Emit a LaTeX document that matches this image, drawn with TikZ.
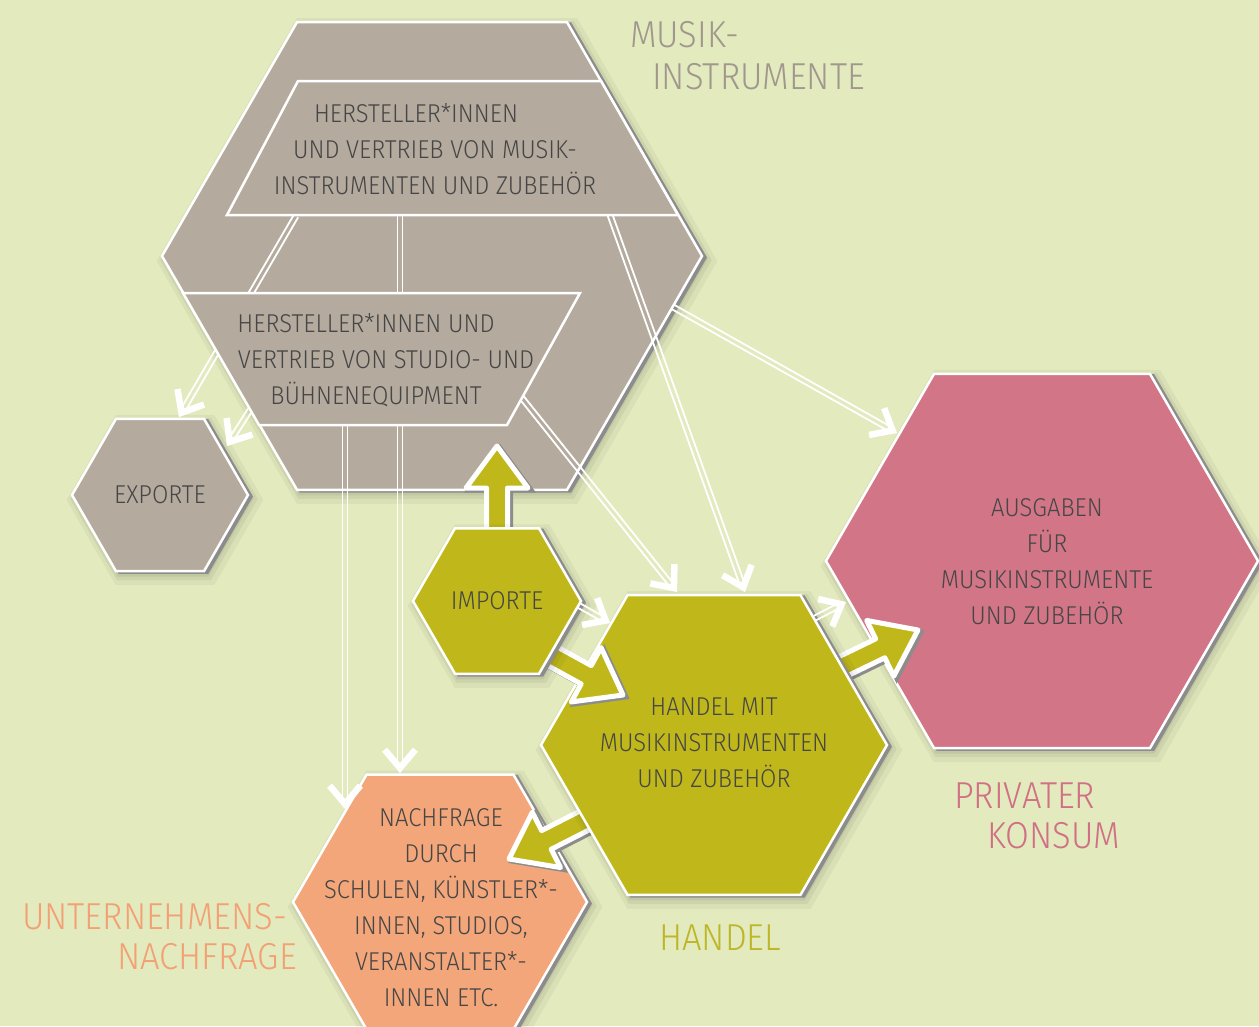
\documentclass[tikz,border=0pt]{standalone}
\usepackage{fontspec}
\setmainfont{Fira Sans Light}[FakeStretch=0.92]
\usetikzlibrary{calc}
\definecolor{bgc}{RGB}{226,234,190}
\definecolor{grayc}{RGB}{180,170,158}
\definecolor{olivec}{RGB}{192,184,26}
\definecolor{pinkc}{RGB}{210,117,135}
\definecolor{salmonc}{RGB}{243,166,122}
\definecolor{textc}{RGB}{70,70,70}
\definecolor{labgray}{RGB}{160,151,141}
\definecolor{laboliv}{RGB}{190,182,40}
\definecolor{labpink}{RGB}{208,112,132}
\definecolor{labsalm}{RGB}{242,160,116}
\definecolor{shadowc}{RGB}{140,140,140}

\tikzset{
  hexst/.style={draw=white, line width=2.5pt, line join=miter,
    preaction={draw=black, draw opacity=0.04, line width=18pt, transform canvas={shift={(5pt,-5pt)}}},
    preaction={draw=black, draw opacity=0.05, line width=10pt, transform canvas={shift={(4pt,-4pt)}}},
    preaction={draw=black, draw opacity=0.06, line width=5pt, transform canvas={shift={(3pt,-3pt)}}},
    preaction={fill=shadowc, draw=shadowc, line width=2.5pt, transform canvas={shift={(3.5pt,-1.5pt)}}}},
  boxst/.style={fill=grayc, draw=white, line width=2.5pt, line join=miter},
  dblline/.style={draw=white, line width=1.8pt},
  chev/.style={draw=white, line width=6.5pt, line join=miter, miter limit=10},
  fatarr/.style={fill=olivec, draw=white, line width=5pt, line join=round,
    preaction={fill=shadowc, draw=shadowc, line width=5pt, transform canvas={shift={(3pt,-2pt)}}}},
  intext/.style={text=textc, font=\fontsize{25.8}{36}\selectfont, align=center, inner sep=0pt},
  labtext/.style={font=\fontsize{37.5}{42}\selectfont, inner sep=0pt, anchor=base west}
}

\newcommand{\drawhex}[3]{\path[#3] ($(#1)+(0:#2)$) -- ($(#1)+(60:#2)$) -- ($(#1)+(120:#2)$) -- ($(#1)+(180:#2)$) -- ($(#1)+(240:#2)$) -- ($(#1)+(300:#2)$) -- cycle;}

\newcommand{\dblarrow}[2]{%
  \path ($(#2)!5pt!(#1)$) coordinate (dbE);
  \draw[dblline] ($(#1)!2.5pt!90:(dbE)$) -- ($(dbE)!2.5pt!-90:(#1)$);
  \draw[dblline] ($(#1)!2.5pt!-90:(dbE)$) -- ($(dbE)!2.5pt!90:(#1)$);
  \draw[chev] ($(dbE)!24pt!40:(#1)$) -- (dbE) -- ($(dbE)!24pt!-40:(#1)$);
}

\newcommand{\fatarrow}[2]{%
  \path ($(#2)!42pt!(#1)$) coordinate (faB);
  \path[fatarr] ($(#1)!10.5pt!90:(#2)$) -- ($(faB)!10.5pt!90:(#2)$) -- ($(faB)!31pt!90:(#2)$) -- (#2) -- ($(faB)!31pt!-90:(#2)$) -- ($(faB)!10.5pt!-90:(#2)$) -- ($(#1)!10.5pt!-90:(#2)$) -- cycle;
}

\begin{document}
\begin{tikzpicture}[x=1pt,y=-1pt]
\useasboundingbox (0,0) rectangle (1259,1026);
\fill[bgc] (0,0) rectangle (1259,1026);

% hexagon centres
\coordinate (cmus) at (432,256);
\coordinate (cexp) at (160,495);
\coordinate (cimp) at (497,601);
\coordinate (chan) at (714,745);
\coordinate (caus) at (1042,561);
\coordinate (cnach) at (440,902);

% arrow end points
\coordinate (a1s) at (296,216);  \coordinate (a1t) at (179,417);
\coordinate (a2s) at (250,410);  \coordinate (a2t) at (227,446);
\coordinate (a3s) at (400,215);  \coordinate (a3t) at (400,773);
\coordinate (a4s) at (345,425);  \coordinate (a4t) at (345,809);
\coordinate (a5s) at (610,215);  \coordinate (a5t) at (745,592);
\coordinate (a6s) at (522,398);  \coordinate (a6t) at (677,592);
\coordinate (a7s) at (673,307);  \coordinate (a7t) at (897,433);
\coordinate (a8s) at (578,605);  \coordinate (a8t) at (610,623);
\coordinate (a9s) at (815,618);  \coordinate (a9t) at (846,602);
\coordinate (fas) at (497,560);  \coordinate (fat) at (497,446);
\coordinate (fbs) at (532,645);  \coordinate (fbt) at (623,695);
\coordinate (fcs) at (819,678);  \coordinate (fct) at (918,630);
\coordinate (fds) at (609,808);  \coordinate (fdt) at (509,859);

% hexagons
\drawhex{caus}{216}{hexst, fill=pinkc}
\drawhex{cnach}{147}{hexst, fill=salmonc}
\drawhex{cexp}{88}{hexst, fill=grayc}
\drawhex{cmus}{270}{hexst, fill=grayc}

% upper box inside the big hexagon
\path[boxst] (298,81) -- (601,81) -- (678,215) -- (227,215) -- cycle;

% connectors passing behind the lower box
\dblarrow{a1s}{a1t}
\dblarrow{a3s}{a3t}

% lower box
\path[boxst] (183,293) -- (580,293) -- (507,425) -- (259,425) -- cycle;

% thick arrows
\fatarrow{fas}{fat}
\fatarrow{fcs}{fct}
\fatarrow{fds}{fdt}
\drawhex{chan}{173}{hexst, fill=olivec}
\fatarrow{fbs}{fbt}
\drawhex{cimp}{84}{hexst, fill=olivec}

% remaining connectors
\dblarrow{a2s}{a2t}
\dblarrow{a4s}{a4t}
\dblarrow{a5s}{a5t}
\dblarrow{a6s}{a6t}
\dblarrow{a7s}{a7t}
\dblarrow{a8s}{a8t}
\dblarrow{a9s}{a9t}

% texts
\node[intext] (tmus1) at (435,149) {HERSTELLER*INNEN\hspace*{38pt}\null\\UND VERTRIEB VON MUSIK-\\INSTRUMENTEN UND ZUBEHÖR};
\node[intext] (tmus2) at (380,360) {HERSTELLER*INNEN UND\hspace*{28pt}\null\\\null\hspace*{12pt}VERTRIEB VON STUDIO- UND\\BÜHNENEQUIPMENT\hspace*{8pt}\null};
\node[intext] (texp) at (cexp) {EXPORTE};
\node[intext] (timp) at (cimp) {IMPORTE};
\node[intext] (than) at (714,743) {HANDEL MIT\\MUSIKINSTRUMENTEN\\UND ZUBEHÖR};
\node[intext] (taus) at (1047,562) {AUSGABEN\\FÜR\\MUSIKINSTRUMENTE\\UND ZUBEHÖR};
\node[intext] (tnach) at (441,908) {NACHFRAGE\\DURCH\\SCHULEN, KÜNSTLER*-\\INNEN, STUDIOS,\\VERANSTALTER*-\\INNEN ETC.};

% labels
\node[labtext, text=labgray] (lmus1) at (630,47) {MUSIK-};
\node[labtext, text=labgray] (lmus2) at (652,89) {INSTRUMENTE};
\node[labtext, text=labpink] (lpk1) at (954,808) {PRIVATER};
\node[labtext, text=labpink] (lpk2) at (987,848) {KONSUM};
\node[labtext, text=laboliv] (lhan) at (659,950) {HANDEL};
\node[labtext, text=labsalm] (lun1) at (22,929) {UNTERNEHMENS-};
\node[labtext, text=labsalm] (lun2) at (117,969) {NACHFRAGE};
\end{tikzpicture}
\end{document}
